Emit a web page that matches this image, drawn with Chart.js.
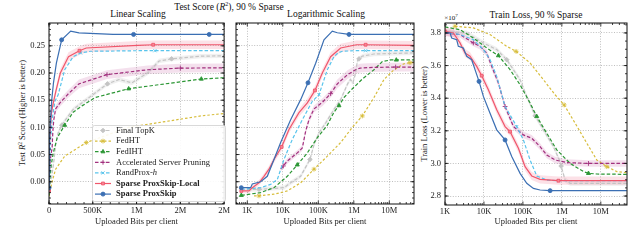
<!DOCTYPE html>
<html>
<head>
<meta charset="utf-8">
<script src="https://cdn.jsdelivr.net/npm/chart.js@4.4.1/dist/chart.umd.min.js"></script>
<style>
  html, body { margin: 0; padding: 0; background: #fff; }
  body { width: 640px; height: 243px; position: relative; overflow: hidden; font-family: "Liberation Serif", serif; color: #111; }
  canvas { position: absolute; top: 0; }
  .ttl { position: absolute; white-space: nowrap; line-height: 1; font-size: 9.5px; transform: translateX(-50%); }
  .ytl { position: absolute; white-space: nowrap; line-height: 1; font-size: 8.5px; color: #222; transform: translate(-50%, -50%) rotate(-90deg); }
  .sup { font-size: 6px; vertical-align: 4px; }
</style>
</head>
<body>
<div class="ttl" style="left:229px;top:1px">Test Score (<i>R</i><span class="sup">2</span>), 90 % Sparse</div>
<div class="ttl" style="left:138px;top:10px">Linear Scaling</div>
<div class="ttl" style="left:326px;top:10px">Logarithmic Scaling</div>
<div class="ttl" style="left:536px;top:11px">Train Loss, 90 % Sparse</div>
<div class="ttl" style="left:451px;top:13px;font-size:7px">×10<span class="sup" style="font-size:5px;vertical-align:3px">7</span></div>
<div class="ytl" style="left:22px;top:113px">Test <i>R</i><span class="sup" style="font-size:5.5px;vertical-align:3px">2</span> Score (Higher is better)</div>
<div class="ytl" style="left:424px;top:114px">Train Loss (Lower is better)</div>

<canvas id="linChart" width="232" height="243" style="left:0;width:232px;height:243px"></canvas>
<canvas id="logChart" width="186" height="243" style="left:232px;width:186px;height:243px"></canvas>
<canvas id="lossChart" width="222" height="243" style="left:418px;width:222px;height:243px"></canvas>

<script>
// ---- Test score (R^2) vs uploaded bits, shared by the linear and log panels ----
const proxBits   = [678, 1242, 1383, 2375, 3656, 5636, 8690, 16620, 31780, 51160, 84140, 144400, 247700, 342700, 731100, 966000, 1830000, 49550000];
const proxScore  = [-0.011, -0.011, -0.004, 0.000, 0.010, 0.041, 0.072, 0.114, 0.151, 0.182, 0.218, 0.261, 0.277, 0.274, 0.271, 0.271, 0.271, 0.271];

const localBits   = [678, 1114, 1383, 2132, 2946, 4074, 5636, 9268, 14920, 28520, 48990, 80540, 129600, 222300, 348000, 425600, 1012000, 1190000, 2153000, 49550000];
const localScore  = [-0.017, -0.017, -0.011, -0.002, 0.010, 0.023, 0.041, 0.064, 0.096, 0.127, 0.145, 0.168, 0.200, 0.230, 0.241, 0.246, 0.251, 0.252, 0.252, 0.251];
const localSpread = [0.004, 0.004, 0.004, 0.005, 0.005, 0.006, 0.006, 0.007, 0.007, 0.007, 0.008, 0.008, 0.008, 0.008, 0.008, 0.008, 0.008, 0.008, 0.008, 0.008];

const randBits  = [678, 2375, 4539, 6998, 10790, 18530, 35410, 67760, 104400, 179300, 276000, 360000, 474200, 1012000, 1210000, 2153000, 49550000];
const randScore = [-0.014, -0.011, -0.005, 0.004, 0.041, 0.078, 0.114, 0.148, 0.160, 0.206, 0.230, 0.237, 0.240, 0.241, 0.241, 0.241, 0.241];

const accelBits   = [8690, 10330, 13390, 25600, 35410, 43970, 54590, 75490, 129600, 222300, 342700, 663000, 1127000, 1500000, 2399000, 15070000, 49550000];
const accelScore  = [0.023, 0.029, 0.038, 0.053, 0.062, 0.093, 0.114, 0.134, 0.146, 0.162, 0.180, 0.197, 0.206, 0.209, 0.210, 0.211, 0.211];
const accelSpread = [0.004, 0.004, 0.005, 0.005, 0.005, 0.006, 0.006, 0.006, 0.007, 0.007, 0.008, 0.008, 0.008, 0.008, 0.008, 0.008, 0.008];

const topkBits   = [1000, 2132, 10790, 16620, 31780, 58230, 75490, 104400, 146000, 160900, 276000, 425600, 667000, 800000, 947000, 1127000, 1256000, 1400000, 1734000, 3698000, 49550000];
const topkScore  = [-0.014, -0.014, -0.011, -0.002, 0.010, 0.041, 0.068, 0.090, 0.104, 0.108, 0.133, 0.151, 0.180, 0.188, 0.182, 0.200, 0.222, 0.226, 0.231, 0.235, 0.237];
const topkSpread = 0.004;

const fedihtBits  = [678, 2375, 5636, 13390, 25600, 48990, 93720, 179300, 276000, 381800, 528400, 910000, 1740000, 3698000, 6353000, 10910000, 15740000, 49550000];
const fedihtScore = [-0.025, -0.020, -0.011, 0.010, 0.031, 0.053, 0.081, 0.104, 0.128, 0.140, 0.155, 0.171, 0.189, 0.206, 0.221, 0.224, 0.224, 0.224];

const fedhtBits  = [1541, 2132, 5636, 13390, 31780, 75490, 179300, 425600, 907800, 1734000, 3698000, 7079000, 13520000, 25880000, 38190000, 49550000];
const fedhtScore = [-0.026, -0.026, -0.023, -0.017, -0.002, 0.023, 0.047, 0.072, 0.100, 0.121, 0.155, 0.188, 0.206, 0.217, 0.219, 0.219];

// ---- Train loss (x 1e7) vs uploaded bits ----
const proxLossBits = [1000, 1345, 1484, 1994, 2201, 2958, 3604, 4843, 5899, 7474, 9661, 14330, 21260, 34840, 51640, 84590, 125500, 186200, 276100, 498900, 46520000];
const proxLoss     = [3.800, 3.800, 3.769, 3.759, 3.718, 3.708, 3.657, 3.636, 3.575, 3.503, 3.411, 3.308, 3.206, 3.144, 3.042, 2.939, 2.878, 2.847, 2.837, 2.833, 2.833];

const localLossBits   = [1000, 1637, 2429, 3265, 4389, 6511, 8754, 12980, 21260, 34840, 46790, 76650, 113700, 168700, 276100, 816600, 46520000];
const localLoss       = [3.810, 3.800, 3.739, 3.677, 3.657, 3.595, 3.538, 3.452, 3.329, 3.226, 3.195, 3.093, 2.980, 2.923, 2.902, 2.894, 2.894];
const localLossSpread = 0.025;

const randLossBits = [1000, 2429, 5345, 9661, 14330, 21260, 34840, 69470, 103000, 152800, 226700, 409600, 816600, 46520000];
const randLoss     = [3.804, 3.790, 3.759, 3.698, 3.636, 3.534, 3.349, 3.226, 3.144, 3.021, 2.923, 2.898, 2.894, 2.894];

const accelLossBits   = [1000, 2429, 5345, 7931, 11770, 15820, 23460, 34840, 56990, 103000, 168700, 276100, 409600, 670800, 1337000, 4817000, 46520000];
const accelLoss       = [3.800, 3.790, 3.739, 3.718, 3.677, 3.595, 3.493, 3.349, 3.226, 3.175, 3.154, 3.103, 3.052, 3.021, 3.005, 3.000, 3.000];
const accelLossSpread = 0.02;

const topkLossBits   = [1000, 3604, 9661, 21260, 38450, 56990, 84590, 125500, 205500, 336300, 607700, 901500, 956400, 1213000, 1629000, 46520000];
const topkLoss       = [3.810, 3.800, 3.739, 3.698, 3.636, 3.575, 3.513, 3.411, 3.292, 3.206, 3.103, 3.011, 2.984, 2.898, 2.878, 2.878];
const topkLossSpread = 0.015;

const fedihtLossBits = [1000, 2429, 5345, 11770, 23460, 46790, 84590, 152800, 226700, 409600, 740000, 1629000, 3586000, 4817000, 7889000, 46520000];
const fedihtLoss     = [3.837, 3.820, 3.769, 3.708, 3.661, 3.575, 3.482, 3.370, 3.288, 3.185, 3.083, 3.000, 2.950, 2.939, 2.935, 2.933];

const fedhtLossBits = [1807, 5345, 14330, 38450, 66720, 152800, 336300, 670800, 1142000, 2190000, 4368000, 7889000, 14260000, 25760000, 46520000];
const fedhtLoss     = [3.841, 3.831, 3.790, 3.718, 3.687, 3.616, 3.513, 3.421, 3.359, 3.247, 3.124, 3.021, 2.980, 2.950, 2.943];

// ---- axes ----
const linTicks    = [0, 500000, 1000000, 1500000, 2000000];
const linLabels   = ['0', '500K', '1M', '2M', '2M'];
const logTicks    = [1e3, 1e4, 1e5, 1e6, 1e7];
const logLabels   = ['1K', '10K', '100K', '1M', '10M'];
const scoreTicks  = [0, 0.05, 0.10, 0.15, 0.20, 0.25];
const scoreLabels = ['0.00', '0.05', '0.10', '0.15', '0.20', '0.25'];
const lossTicks   = [2.8, 3.0, 3.2, 3.4, 3.6, 3.8];
const lossLabels  = ['2.8', '3.0', '3.2', '3.4', '3.6', '3.8'];

const methodNames = {
  topk: 'Final TopK', fedht: 'FedHT', fediht: 'FedIHT', accel: 'Accelerated Server Pruning',
  rand: 'RandProx-h', local: 'Sparse ProxSkip-Local', prox: 'Sparse ProxSkip'
};
const legendOrder = ['topk', 'fedht', 'fediht', 'accel', 'rand', 'local', 'prox'];

// styles
const look = {
  prox:   { color: '#3b6fb3', dash: [],       marker: 'circle',   r: 2,   order: 1 },
  local:  { color: '#f0566b', dash: [],       marker: 'rect',     r: 2,   order: 2, face: '#f48a98', band: 'rgba(240,90,120,0.18)' },
  rand:   { color: '#58c4ec', dash: [3.5, 2], marker: 'crossRot', r: 2.2, order: 3 },
  accel:  { color: '#a2307e', dash: [3.5, 2], marker: 'cross',    r: 2.4, order: 4, band: 'rgba(185,60,140,0.16)' },
  fediht: { color: '#2b9634', dash: [3.5, 2], marker: 'triangle', r: 2.3, order: 5 },
  fedht:  { color: '#d7bd3c', dash: [2.5, 2], marker: 'star',     r: 2.4, order: 6 },
  topk:   { color: '#c4c4c4', dash: [3.5, 2], marker: 'rectRot',  r: 2.3, order: 7, band: 'rgba(150,150,150,0.14)' }
};

const scoreSeries = [
  { key: 'prox',   bits: proxBits,   val: proxScore,   logMarks: [0, 9, 14],     linMarks: [0, 11, 15, 16] },
  { key: 'local',  bits: localBits,  val: localScore,  logMarks: [0, 7, 11, 18], linMarks: [0, 14, 17], spread: localSpread },
  { key: 'rand',   bits: randBits,   val: randScore,   logMarks: [0, 8, 15],     linMarks: [0, 11, 14] },
  { key: 'accel',  bits: accelBits,  val: accelScore,  logMarks: [1, 9, 15],     linMarks: [11, 13], spread: accelSpread },
  { key: 'fediht', bits: fedihtBits, val: fedihtScore, logMarks: [0, 4, 9, 16],  linMarks: [7, 11, 12] },
  { key: 'fedht',  bits: fedhtBits,  val: fedhtScore,  logMarks: [1, 5, 9, 14],  linMarks: [7] },
  { key: 'topk',   bits: topkBits,   val: topkScore,   logMarks: [1, 5, 17],     linMarks: [8, 12, 17], spread: topkSpread }
];

const lossSeries = [
  { key: 'prox',   bits: proxLossBits,   val: proxLoss,   marks: [9, 13, 19] },
  { key: 'local',  bits: localLossBits,  val: localLoss,  marks: [0, 6, 10, 15], spread: localLossSpread },
  { key: 'rand',   bits: randLossBits,   val: randLoss,   marks: [0, 7, 12] },
  { key: 'accel',  bits: accelLossBits,  val: accelLoss,  marks: [2, 7, 15], spread: accelLossSpread },
  { key: 'fediht', bits: fedihtLossBits, val: fedihtLoss, marks: [4, 8, 13] },
  { key: 'fedht',  bits: fedhtLossBits,  val: fedhtLoss,  marks: [0, 4, 8, 12] },
  { key: 'topk',   bits: topkLossBits,   val: topkLoss,   marks: [4, 8, 12], spread: topkLossSpread }
];

const serif = '"Liberation Serif", serif';

function buildSets(list, markKey) {
  const sets = [];
  list.forEach(s => {
    const st = look[s.key];
    if (s.spread !== undefined) {
      const sp = i => Array.isArray(s.spread) ? s.spread[i] : s.spread;
      sets.push({
        data: s.bits.map((x, i) => ({ x, y: s.val[i] + sp(i) })),
        borderWidth: 0, pointRadius: 0, fill: false, order: 20 + st.order
      });
      sets.push({
        data: s.bits.map((x, i) => ({ x, y: s.val[i] - sp(i) })),
        borderWidth: 0, pointRadius: 0, fill: '-1', backgroundColor: st.band, order: 20 + st.order
      });
    }
    const marks = s[markKey];
    sets.push({
      label: methodNames[s.key],
      data: s.bits.map((x, i) => ({ x, y: s.val[i] })),
      borderColor: st.color,
      borderWidth: 1.2,
      borderDash: st.dash,
      fill: false,
      tension: 0,
      pointStyle: st.marker,
      pointRadius: s.bits.map((_, i) => marks.includes(i) ? st.r : 0),
      pointHoverRadius: 0,
      pointBackgroundColor: st.face || st.color,
      pointBorderColor: st.color,
      pointBorderWidth: 0.9,
      order: st.order
    });
  });
  return sets;
}

function seg(ctx, x1, y1, x2, y2) {
  ctx.beginPath(); ctx.moveTo(x1, y1); ctx.lineTo(x2, y2); ctx.stroke();
}

function minorVals(scale, step) {
  const out = [];
  if (step === 'log') {
    for (let e = Math.floor(Math.log10(scale.min)); e <= Math.ceil(Math.log10(scale.max)); e++) {
      for (let k = 2; k < 10; k++) {
        const v = k * Math.pow(10, e);
        if (v > scale.min && v < scale.max) out.push(v);
      }
    }
  } else if (step) {
    for (let v = Math.ceil(scale.min / step) * step; v < scale.max; v += step) out.push(v);
  }
  return out;
}

// box round the plot with inward ticks on all four sides
const framePlugin = {
  id: 'frame',
  afterDatasetsDraw(chart, args, opts) {
    const { ctx, chartArea: a, scales: { x, y } } = chart;
    ctx.save();
    ctx.strokeStyle = '#111';
    ctx.lineWidth = 0.8;
    x.ticks.forEach(t => {
      const p = x.getPixelForValue(t.value);
      seg(ctx, p, a.bottom, p, a.bottom - 3.5); seg(ctx, p, a.top, p, a.top + 3.5);
    });
    minorVals(x, opts.xMinor).forEach(v => {
      const p = x.getPixelForValue(v);
      seg(ctx, p, a.bottom, p, a.bottom - 2); seg(ctx, p, a.top, p, a.top + 2);
    });
    y.ticks.forEach(t => {
      const p = y.getPixelForValue(t.value);
      seg(ctx, a.left, p, a.left + 3.5, p); seg(ctx, a.right, p, a.right - 3.5, p);
    });
    minorVals(y, opts.yMinor).forEach(v => {
      const p = y.getPixelForValue(v);
      seg(ctx, a.left, p, a.left + 2, p); seg(ctx, a.right, p, a.right - 2, p);
    });
    ctx.lineWidth = 1;
    ctx.strokeRect(a.left, a.top, a.right - a.left, a.bottom - a.top);
    ctx.restore();
  }
};

// legend box inside the linear panel
const legendPlugin = {
  id: 'legendBox',
  afterDraw(chart) {
    const ctx = chart.ctx;
    const bx = 92, by = 125, bw = 133, bh = 76;
    ctx.save();
    ctx.beginPath();
    ctx.roundRect(bx + 0.5, by + 0.5, bw, bh, 2);
    ctx.fillStyle = 'rgba(255,255,255,0.9)';
    ctx.fill();
    ctx.strokeStyle = '#cfcfcf';
    ctx.lineWidth = 0.8;
    ctx.stroke();
    legendOrder.forEach((key, i) => {
      const st = look[key];
      const yy = by + 5.5 + i * 10.6;
      ctx.strokeStyle = st.color;
      ctx.lineWidth = 1.2;
      ctx.setLineDash(st.dash);
      seg(ctx, bx + 3, yy, bx + 19, yy);
      ctx.setLineDash([]);
      ctx.fillStyle = st.face || st.color;
      ctx.lineWidth = 0.9;
      Chart.helpers.drawPoint(ctx, { pointStyle: st.marker, radius: st.r, rotation: 0, borderWidth: 0.9 }, bx + 11, yy);
      const bold = key === 'local' || key === 'prox';
      ctx.font = (bold ? 'bold ' : '') + '8.5px ' + serif;
      ctx.fillStyle = '#222';
      ctx.textBaseline = 'middle';
      const label = methodNames[key];
      if (key === 'rand') {
        const head = label.slice(0, -1);
        ctx.fillText(head, bx + 24, yy);
        const w = ctx.measureText(head).width;
        ctx.font = 'italic 8.5px ' + serif;
        ctx.fillText(label.slice(-1), bx + 24 + w, yy);
      } else {
        ctx.fillText(label, bx + 24, yy);
      }
    });
    ctx.restore();
  }
};

const tickFont = { family: serif, size: 8.5 };
const grid = { color: 'rgba(0,0,0,0.32)', lineWidth: 0.8, drawTicks: false };
const border = { display: false, dash: [1, 1.6] };

function xAxis(type, min, max, ticks, labels, height) {
  return {
    type, min, max,
    afterBuildTicks: s => { s.ticks = ticks.map(v => ({ value: v })); },
    afterFit: s => { s.height = height; },
    ticks: { font: tickFont, color: '#222', padding: 2, maxRotation: 0, autoSkip: false,
             callback: (v, i) => labels[i] },
    grid, border,
    title: { display: true, text: 'Uploaded Bits per client', color: '#222',
             font: { family: serif, size: 8.5 }, padding: { top: 0, bottom: 16 } }
  };
}

function yAxis(min, max, ticks, labels, width, showLabels) {
  return {
    min, max,
    afterBuildTicks: s => { s.ticks = ticks.map(v => ({ value: v })); },
    afterFit: s => { s.width = width; },
    ticks: { display: showLabels, font: tickFont, color: '#222', padding: 4,
             callback: (v, i) => labels[i] },
    grid, border
  };
}

function baseOptions(pad, x, y, frame) {
  return {
    responsive: false,
    animation: false,
    events: [],
    layout: { padding: pad },
    plugins: { legend: { display: false }, tooltip: { enabled: false }, frame },
    scales: { x, y }
  };
}

// Linear panel
new Chart(document.getElementById('linChart').getContext('2d'), {
  type: 'line',
  data: { datasets: buildSets(scoreSeries, 'linMarks') },
  options: baseOptions(
    { left: 0, right: 5, top: 23, bottom: 0 },
    xAxis('linear', 0, 2000000, linTicks, linLabels, 39),
    yAxis(-0.041, 0.292, scoreTicks, scoreLabels, 49, true),
    { xMinor: 100000, yMinor: 0.01 }
  ),
  plugins: [framePlugin, legendPlugin]
});

// Logarithmic panel
new Chart(document.getElementById('logChart').getContext('2d'), {
  type: 'line',
  data: { datasets: buildSets(scoreSeries, 'logMarks') },
  options: baseOptions(
    { left: 0, right: 4, top: 23, bottom: 0 },
    xAxis('logarithmic', 480, 49550000, logTicks, logLabels, 39),
    yAxis(-0.041, 0.292, scoreTicks, scoreLabels, 4, false),
    { xMinor: 'log', yMinor: 0.01 }
  ),
  plugins: [framePlugin]
});

// Train loss panel
new Chart(document.getElementById('lossChart').getContext('2d'), {
  type: 'line',
  data: { datasets: buildSets(lossSeries, 'marks') },
  options: baseOptions(
    { left: 0, right: 13, top: 23, bottom: 0 },
    xAxis('logarithmic', 1000, 47000000, logTicks, logLabels, 38),
    yAxis(2.745, 3.861, lossTicks, lossLabels, 27, true),
    { xMinor: 'log', yMinor: 0.05 }
  ),
  plugins: [framePlugin]
});
</script>
</body>
</html>
